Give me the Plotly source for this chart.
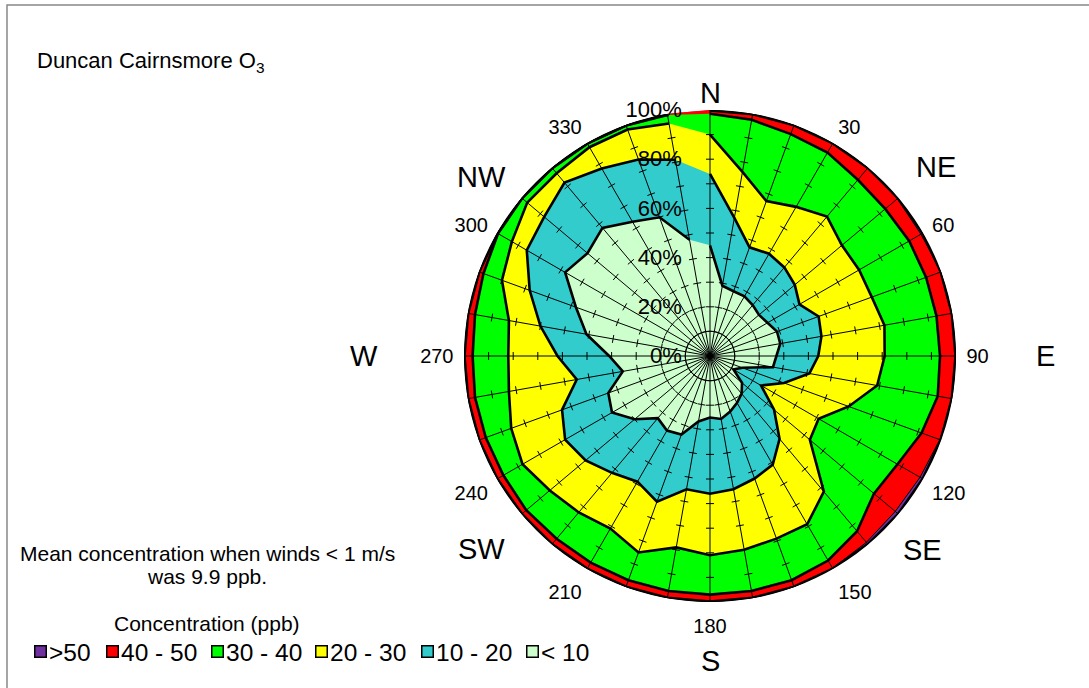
import math
import plotly.graph_objects as go

# ---------------- data (cumulative % of time, by wind direction) ----------------
directions = list(range(0, 360, 10))

# cumulative frequency (%) with concentration below each band edge
lt10 = [45, 29, 28, 28, 27, 26, 27, 29, 29, 27, 26, 14, 11, 17, 20, 22, 24, 26,
        25, 27, 34, 35, 33, 40, 46, 44, 36, 41, 51, 58, 68, 65, 68, 63, 60, 48]
lt20 = [74, 57, 47, 48, 47, 45, 42, 47, 46, 44, 41, 32, 24, 34, 44, 51, 53, 55,
        56, 55, 63, 59, 62, 66, 68, 64, 55, 62, 70, 78, 86, 88, 92, 88, 85, 81]
lt30 = [90, 76, 67, 70, 74, 70, 70, 70, 72, 71, 69, 60, 51, 53, 72, 79, 79, 80,
        81, 79, 85, 81, 83, 85, 88, 86, 83, 82, 83, 90, 93, 97, 97, 98, 98, 96]
lt40 = [98.5, 97.5, 96, 95.5, 93.5, 93, 93.5, 93.5, 93.5, 93.5, 94, 91.5, 88, 87, 93, 96, 97, 97,
        97, 97, 97, 97, 97, 97.5, 97, 97, 97, 96.5, 97, 98, 99.5, 99.7, 99.7, 99.7, 99.7, 99.5]
lt50 = [100, 100, 100, 100, 100, 99.4, 99.0, 100, 100, 100, 100, 99.4, 98.6, 98.3, 98.9, 99.6, 100, 100,
        100, 100, 100, 100, 100, 100, 100, 100, 100, 100, 100, 100, 100, 100, 100, 100, 100, 100]
total = [100] * 36

band_names = [">50", "40 - 50", "30 - 40", "20 - 30", "10 - 20", "&lt; 10"]
band_colors = ["#7030A0", "#FF0000", "#00FF00", "#FFFF00", "#33CCCC", "#CCFFCC"]
band_edges = [total, lt50, lt40, lt30, lt20, lt10]

radial_ticks = [0, 20, 40, 60, 80, 100]
angle_ticks = [30, 60, 90, 120, 150, 180, 210, 240, 270, 300, 330]

compass_text = ["N", "NE", "E", "SE", "S", "SW", "W", "NW"]
compass_theta = [0, 50.1, 90, 132.3, 180, 229.8, 270, 308]
compass_r = [107, 119.5, 136.5, 117, 124, 121.5, 140.5, 118]

FONT = "Liberation Sans, Arial, sans-serif"
W, H = 1089, 688
CX, CY, R = 710, 356, 246          # polar centre / radius in pixels

fig = go.Figure()

# filled areas (outermost first)
for name, col, edge in zip(band_names, band_colors, band_edges):
    fig.add_trace(go.Scatterpolar(
        r=edge + [edge[0]], theta=directions + [directions[0]],
        mode="none", fill="toself", fillcolor=col,
        showlegend=False, hoverinfo="skip"))

# spokes
sr, st = [], []
for d in directions:
    sr += [0, 100, None]
    st += [d, d, None]
fig.add_trace(go.Scatterpolar(r=sr, theta=st, mode="lines",
                              line=dict(color="black", width=1),
                              showlegend=False, hoverinfo="skip"))

# tick marks across spokes every 10 %
half = 4 / 2.46
tr, tt = [], []
for d in directions:
    for rr in range(10, 100, 10):
        rt = math.hypot(rr, half)
        dt = math.degrees(math.atan(half / rr))
        tr += [rt, rt, None]
        tt += [d - dt, d + dt, None]
fig.add_trace(go.Scatterpolar(r=tr, theta=tt, mode="lines",
                              line=dict(color="black", width=1),
                              showlegend=False, hoverinfo="skip"))

# band outlines (open, as in the original)
for edge, w in [(lt10, 2.6), (lt20, 2.6), (lt30, 2.6), (lt40, 2.6), (lt50, 1), (total, 3.5)]:
    fig.add_trace(go.Scatterpolar(r=edge, theta=directions, mode="lines",
                                  line=dict(color="black", width=w),
                                  showlegend=False, hoverinfo="skip"))

annotations = []
# compass labels, placed by polar geometry
for txt, th, rr in zip(compass_text, compass_theta, compass_r):
    px = CX + R * rr / 100 * math.sin(math.radians(th))
    py = CY - R * rr / 100 * math.cos(math.radians(th))
    annotations.append(dict(text=txt, x=px / W, y=1 - py / H, xref="paper", yref="paper",
                            xanchor="center", yanchor="middle", showarrow=False,
                            font=dict(size=29)))

# title and notes
annotations += [
    dict(text="Duncan Cairnsmore O<sub>3</sub>", x=35 / W, y=1 - 62 / H,
         xref="paper", yref="paper", xanchor="left", yanchor="middle",
         showarrow=False, font=dict(size=22)),
    dict(text="Mean concentration when winds &lt; 1 m/s", x=207 / W, y=1 - 553 / H,
         xref="paper", yref="paper", xanchor="center", yanchor="middle",
         showarrow=False, font=dict(size=21)),
    dict(text="was 9.9 ppb.", x=207 / W, y=1 - 576 / H,
         xref="paper", yref="paper", xanchor="center", yanchor="middle",
         showarrow=False, font=dict(size=21)),
    dict(text="Concentration (ppb)", x=207 / W, y=1 - 623 / H,
         xref="paper", yref="paper", xanchor="center", yanchor="middle",
         showarrow=False, font=dict(size=21)),
]

# legend (swatch boxes + labels)
legend_x = [34, 106, 211, 315, 421, 526]
legend_y = 651
for name, col, lx in zip(band_names, band_colors, legend_x):
    annotations.append(dict(text="", x=(lx + 6.5) / W, y=1 - legend_y / H,
                            xref="paper", yref="paper", xanchor="center", yanchor="middle",
                            showarrow=False, width=10, height=10, bgcolor=col,
                            bordercolor="black", borderwidth=1.5, borderpad=0))
    annotations.append(dict(text=name, x=(lx + 13) / W, y=1 - (legend_y + 1) / H,
                            xref="paper", yref="paper", xanchor="left", yanchor="middle",
                            showarrow=False, font=dict(size=24.5)))

fig.update_layout(
    width=W, height=H,
    margin=dict(l=0, r=0, t=0, b=0),
    paper_bgcolor="white",
    showlegend=False,
    font=dict(family=FONT, color="black"),
    polar=dict(
        domain=dict(x=[(CX - R) / W, (CX + R) / W], y=[1 - (CY + R) / H, 1 - (CY - R) / H]),
        bgcolor="rgba(0,0,0,0)",
        radialaxis=dict(range=[0, 100], angle=90, tickangle=90,
                        tickvals=radial_ticks,
                        ticktext=[f"{v}%" for v in radial_ticks],
                        showgrid=False, showline=False,
                        ticks="outside", ticklen=20, tickcolor="rgba(0,0,0,0)",
                        side="counterclockwise", layer="above traces",
                        tickfont=dict(size=22, family=FONT, color="black")),
        angularaxis=dict(rotation=90, direction="clockwise",
                         tickvals=angle_ticks, ticktext=[str(a) for a in angle_ticks],
                         showgrid=False, showline=False,
                         ticks="outside", ticklen=6, tickcolor="rgba(0,0,0,0)",
                         tickfont=dict(size=20, family=FONT, color="black")),
    ),
    annotations=annotations,
    shapes=[dict(type="rect", xref="paper", yref="paper",
                 x0=7 / W, x1=1.05, y0=-0.05, y1=1 - 5 / H,
                 line=dict(color="#888888", width=1.5), fillcolor="rgba(0,0,0,0)")],
)

fig.write_html("out.html", config={"displayModeBar": False},
               post_script="document.body.style.margin='0';")
